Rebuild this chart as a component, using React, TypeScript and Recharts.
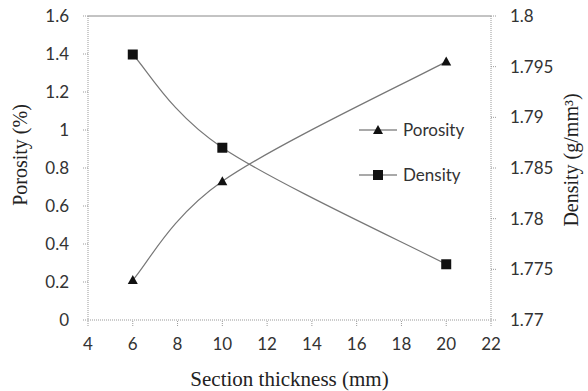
import { ComposedChart, Line, XAxis, YAxis, ReferenceLine } from 'recharts'

const thickness = [6, 10, 20]
const porosity = [0.21, 0.73, 1.36]
const density = [1.7962, 1.787, 1.7755]

const xTicks = [4, 6, 8, 10, 12, 14, 16, 18, 20, 22]
const leftTicks = [0, 0.2, 0.4, 0.6, 0.8, 1, 1.2, 1.4, 1.6]
const rightTicks = [1.77, 1.775, 1.78, 1.785, 1.79, 1.795, 1.8]

const data = thickness.map((t, i) => ({ t, porosity: porosity[i], density: density[i] }))

const tickFont = { fontFamily: 'Lato, "Open Sans", sans-serif', fontSize: 17, fill: '#333' }
const titleFont = { fontFamily: '"Liberation Serif", serif', fontSize: 20, fill: '#222' }
const axisStroke = '#999'

// spreadsheet-style smoothed line (bezier through points, control = neighbours / 6)
const smoothCurve = (context: any) => {
  let pts: number[][] = []
  return {
    areaStart() {},
    areaEnd() {},
    lineStart() { pts = [] },
    point(x: number, y: number) { pts.push([+x, +y]) },
    lineEnd() {
      if (!pts.length) return
      context.moveTo(pts[0][0], pts[0][1])
      for (let i = 0; i < pts.length - 1; i++) {
        const p0 = pts[i - 1] || pts[i]
        const p1 = pts[i]
        const p2 = pts[i + 1]
        const p3 = pts[i + 2] || p2
        context.bezierCurveTo(
          p1[0] + (p2[0] - p0[0]) / 6, p1[1] + (p2[1] - p0[1]) / 6,
          p2[0] - (p3[0] - p1[0]) / 6, p2[1] - (p3[1] - p1[1]) / 6,
          p2[0], p2[1]
        )
      }
    },
  }
}

const Triangle = (props: any) => {
  const { cx, cy } = props
  if (cx == null || cy == null) return null
  return <polygon points={`${cx},${cy - 5} ${cx - 5},${cy + 4} ${cx + 5},${cy + 4}`} fill="#111" />
}

const Square = (props: any) => {
  const { cx, cy } = props
  if (cx == null || cy == null) return null
  return <rect x={cx - 5} y={cy - 5} width={10} height={10} fill="#111" />
}

const LegendBox = () => {
  const items = [
    { name: 'Porosity', marker: 'tri' },
    { name: 'Density', marker: 'sq' },
  ]
  return (
    <svg width={130} height={70}>
      {items.map((it, i) => {
        const y = 10 + i * 45
        return (
          <g key={it.name}>
            <line x1={0} x2={38} y1={y} y2={y} stroke="#555" strokeWidth={1.2} />
            {it.marker === 'tri' ? <Triangle cx={19} cy={y} /> : <Square cx={19} cy={y} />}
            <text x={44} y={y + 6} style={{ ...tickFont, fontSize: 17 }}>{it.name}</text>
          </g>
        )
      })}
    </svg>
  )
}

export default function App() {
  return (
    <div style={{ position: 'absolute', left: 0, top: 0, width: 588, height: 391, background: '#fff' }}>
      <ComposedChart width={588} height={391} data={data} margin={{ top: 16, right: 0, bottom: 0, left: 0 }}>
        <XAxis
          dataKey="t"
          type="number"
          domain={[4, 22]}
          ticks={xTicks}
          height={71}
          tick={tickFont}
          tickSize={6}
          tickMargin={12}
          stroke={axisStroke}
          axisLine={{ stroke: axisStroke, strokeDasharray: '1 1' }}
          tickLine={{ stroke: axisStroke, strokeDasharray: '1 1' }}
          label={(p: any) => {
            const vb = p.viewBox
            return (
              <text x={vb.x + vb.width / 2} y={vb.y + 66} textAnchor="middle" style={{ ...titleFont, fontSize: 21 }}>
                Section thickness (mm)
              </text>
            )
          }}
        />
        <YAxis
          yAxisId="left"
          domain={[0, 1.6]}
          ticks={leftTicks}
          width={88}
          tick={tickFont}
          tickSize={5}
          tickMargin={14}
          axisLine={{ stroke: axisStroke, strokeDasharray: '1 1' }}
          tickLine={{ stroke: axisStroke, strokeDasharray: '1 1' }}
          label={(p: any) => {
            const vb = p.viewBox
            const x = vb.x + 22
            const y = vb.y + vb.height / 2 - 13
            return (
              <text x={x} y={y} textAnchor="middle" dominantBaseline="middle" transform={`rotate(-90, ${x}, ${y})`} style={titleFont}>
                Porosity (%)
              </text>
            )
          }}
        />
        <YAxis
          yAxisId="right"
          orientation="right"
          domain={[1.77, 1.8]}
          ticks={rightTicks}
          width={97}
          tick={tickFont}
          tickSize={5}
          tickMargin={14}
          axisLine={{ stroke: axisStroke, strokeDasharray: '1 1' }}
          tickLine={{ stroke: axisStroke, strokeDasharray: '1 1' }}
          label={(p: any) => {
            const vb = p.viewBox
            const x = vb.x + 82
            const y = vb.y + vb.height / 2 - 8
            return (
              <text x={x} y={y} textAnchor="middle" dominantBaseline="middle" transform={`rotate(-90, ${x}, ${y})`} style={titleFont}>
                Density (g/mm³)
              </text>
            )
          }}
        />
        <ReferenceLine yAxisId="left" y={1.6} stroke="#888" strokeWidth={1} />
        <Line
          yAxisId="left"
          dataKey="porosity"
          type={smoothCurve as any}
          stroke="#777"
          strokeWidth={1.2}
          dot={<Triangle />}
          activeDot={false}
          isAnimationActive={false}
        />
        <Line
          yAxisId="right"
          dataKey="density"
          type={smoothCurve as any}
          stroke="#777"
          strokeWidth={1.2}
          dot={<Square />}
          activeDot={false}
          isAnimationActive={false}
        />
      </ComposedChart>
      <div style={{ position: 'absolute', left: 359, top: 120 }}>
        <LegendBox />
      </div>
    </div>
  )
}
